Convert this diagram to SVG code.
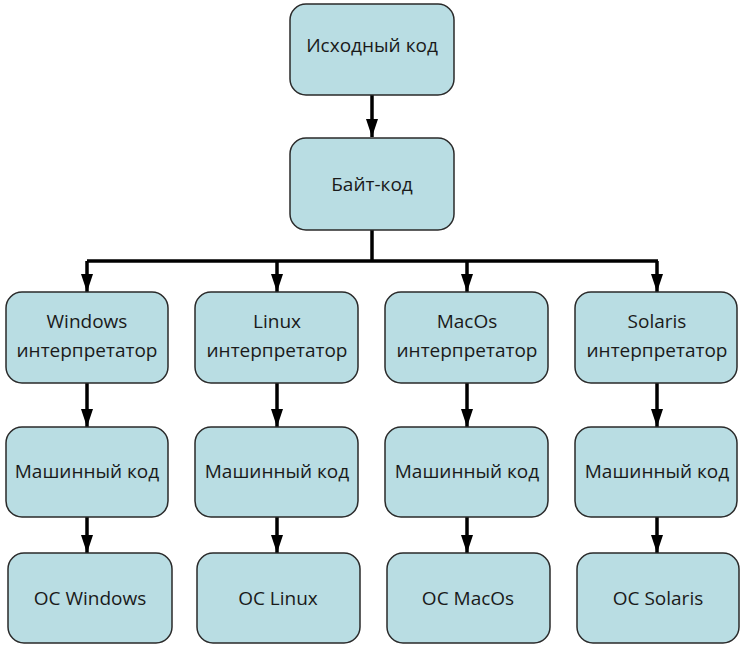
<svg xmlns="http://www.w3.org/2000/svg" width="750" height="648" viewBox="0 0 750 648">
<defs>
<marker id="ah" markerWidth="18" markerHeight="12" refX="18" refY="6" orient="auto" markerUnits="userSpaceOnUse" viewBox="0 0 18 12">
<path d="M0,0 L18,6 L0,12 Z" fill="#000"/>
</marker>
<style>
.box{fill:#b9dde3;stroke:#2a2a2a;stroke-width:1.5}
.t{font-family:"Open Sans","Noto Sans",sans-serif;font-size:19px;fill:#1a1a1a;text-anchor:middle}
.c{stroke:#000;stroke-width:3.5;fill:none}
.a{stroke:#000;stroke-width:3.5;fill:none;marker-end:url(#ah)}
</style>
</defs>
<rect width="750" height="648" fill="#fff"/>
<g id="connectors">
<line class="a" x1="372" y1="95" x2="372" y2="137"/>
<polyline class="c" points="372,230 372,261"/>
<polyline class="c" points="87,261 658,261"/>
<line class="a" x1="87" y1="261" x2="87" y2="292"/>
<line class="a" x1="277" y1="261" x2="277" y2="292"/>
<line class="a" x1="467" y1="261" x2="467" y2="292"/>
<line class="a" x1="657" y1="261" x2="657" y2="292"/>
<line class="a" x1="87" y1="383" x2="87" y2="427"/>
<line class="a" x1="277" y1="383" x2="277" y2="427"/>
<line class="a" x1="467" y1="383" x2="467" y2="427"/>
<line class="a" x1="657" y1="383" x2="657" y2="427"/>
<line class="a" x1="87" y1="517" x2="87" y2="553"/>
<line class="a" x1="277" y1="517" x2="277" y2="553"/>
<line class="a" x1="467" y1="517" x2="467" y2="553"/>
<line class="a" x1="657" y1="517" x2="657" y2="553"/>
</g>
<g id="src"><rect class="box" x="290" y="4" width="164" height="91" rx="16"/><text class="t" x="372" y="52">Исходный код</text></g>
<g id="bytecode"><rect class="box" x="290" y="138" width="164" height="92" rx="16"/><text class="t" x="372" y="191">Байт-код</text></g>

<g id="win-int"><rect class="box" x="6" y="292" width="162" height="91" rx="16"/><text class="t" x="87" y="328">Windows</text><text class="t" x="87" y="357">интерпретатор</text></g>
<g id="lin-int"><rect class="box" x="195" y="292" width="163" height="91" rx="16"/><text class="t" x="277" y="328">Linux</text><text class="t" x="277" y="357">интерпретатор</text></g>
<g id="mac-int"><rect class="box" x="385" y="292" width="163" height="91" rx="16"/><text class="t" x="467" y="328">MacOs</text><text class="t" x="467" y="357">интерпретатор</text></g>
<g id="sol-int"><rect class="box" x="575" y="292" width="162" height="91" rx="16"/><text class="t" x="657" y="328">Solaris</text><text class="t" x="657" y="357">интерпретатор</text></g>

<g id="win-mc"><rect class="box" x="6" y="427" width="162" height="90" rx="16"/><text class="t" x="87" y="478">Машинный код</text></g>
<g id="lin-mc"><rect class="box" x="195" y="427" width="163" height="90" rx="16"/><text class="t" x="277" y="478">Машинный код</text></g>
<g id="mac-mc"><rect class="box" x="385" y="427" width="163" height="90" rx="16"/><text class="t" x="467" y="478">Машинный код</text></g>
<g id="sol-mc"><rect class="box" x="575" y="427" width="162" height="90" rx="16"/><text class="t" x="657" y="478">Машинный код</text></g>

<g id="win-os"><rect class="box" x="8" y="553" width="164" height="90" rx="16"/><text class="t" x="90" y="605">OC Windows</text></g>
<g id="lin-os"><rect class="box" x="197" y="553" width="163" height="90" rx="16"/><text class="t" x="278" y="605">OC Linux</text></g>
<g id="mac-os"><rect class="box" x="387" y="553" width="163" height="90" rx="16"/><text class="t" x="468" y="605">OC MacOs</text></g>
<g id="sol-os"><rect class="box" x="577" y="553" width="162" height="90" rx="16"/><text class="t" x="658" y="605">OC Solaris</text></g>
</svg>
